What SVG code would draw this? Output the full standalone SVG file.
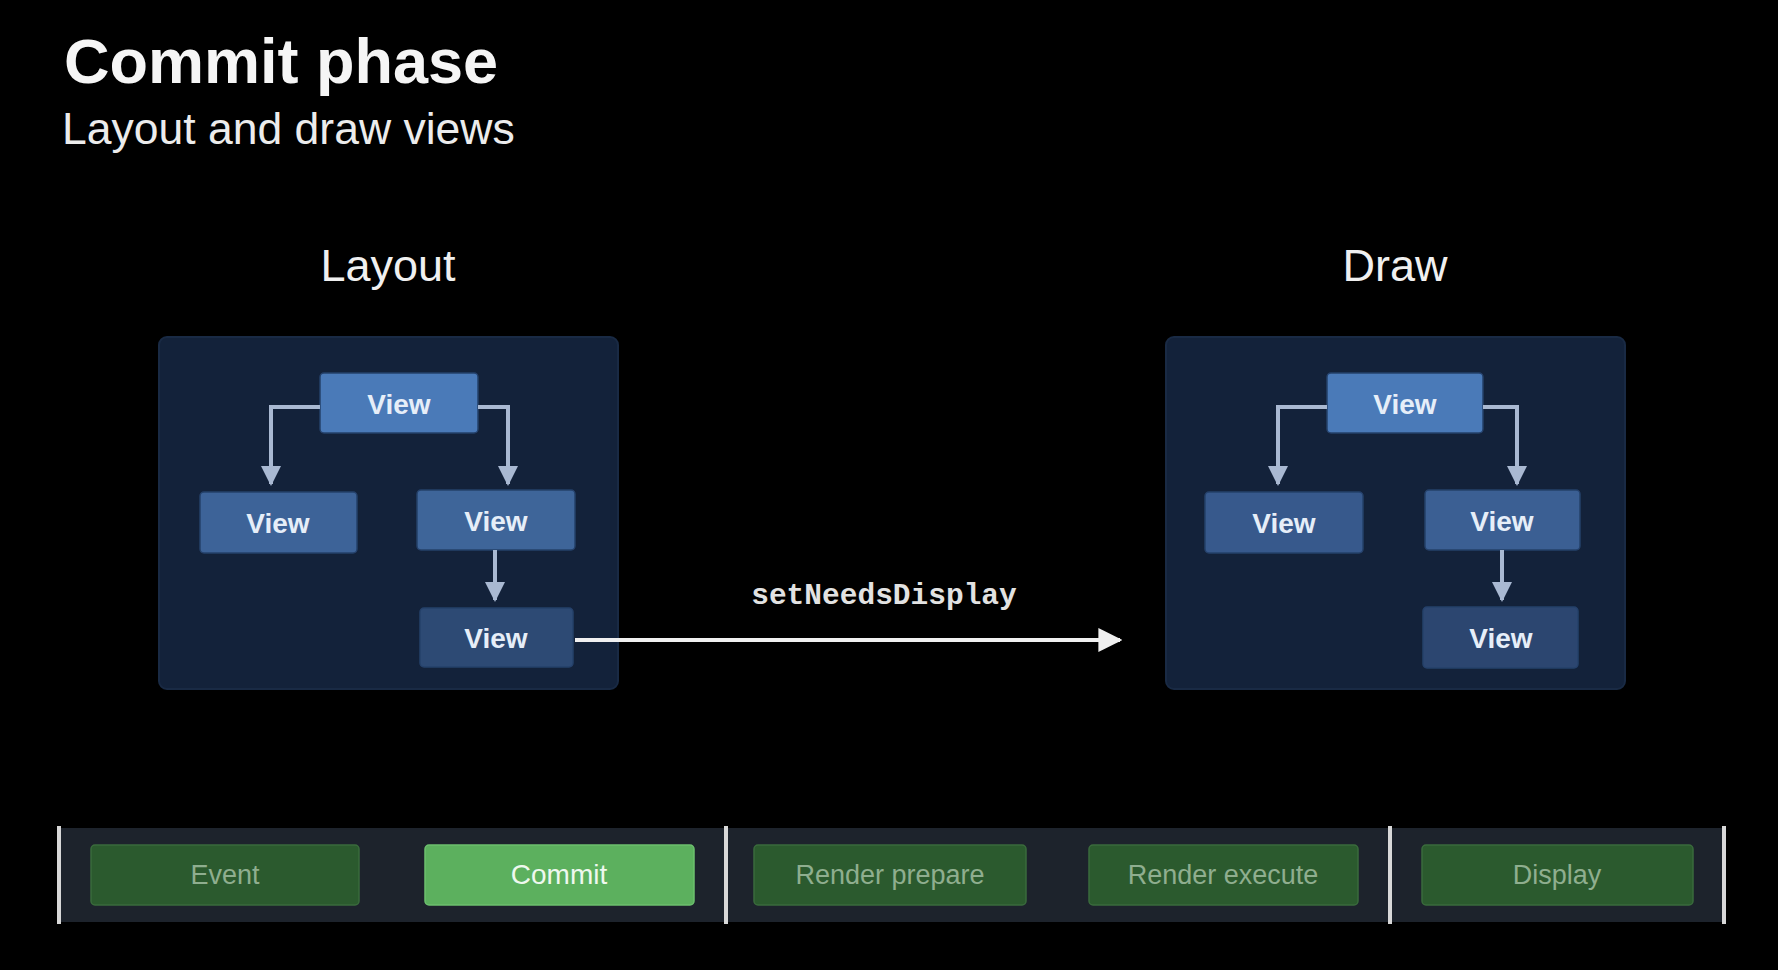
<svg xmlns="http://www.w3.org/2000/svg" width="1778" height="970" viewBox="0 0 1778 970">
<defs>
<style>
.title{font-family:"Liberation Sans",Arial,sans-serif;font-weight:bold;font-size:63px;fill:#f5f5f5}
.sub{font-family:"Liberation Sans",Arial,sans-serif;font-size:44.5px;fill:#ececec}
.head{font-family:"Liberation Sans",Arial,sans-serif;font-size:45px;fill:#f0f0f0;text-anchor:middle}
.panel{fill:#13223a;stroke:#192a44;stroke-width:2}
.view{stroke:#25416a;stroke-width:1.5}
.vt{font-family:"Liberation Sans",Arial,sans-serif;font-weight:bold;font-size:28px;fill:#e6eef8;text-anchor:middle}
.tree{fill:none;stroke:#a9b9d2;stroke-width:4}
.mono{font-family:"Liberation Mono","DejaVu Sans Mono",monospace;font-weight:bold;font-size:29.5px;fill:#e2e2e2;text-anchor:middle}
.bar{fill:#1d232c}
.sep{stroke:#d8d8d8;stroke-width:4}
.step{fill:#2b5a2e;stroke:#3a6b3c;stroke-width:1.5}
.stepon{fill:#5cb05e;stroke:#6cc06e;stroke-width:1.5}
.st{font-family:"Liberation Sans",Arial,sans-serif;font-size:27px;fill:#8fae8f;text-anchor:middle}
.ston{font-family:"Liberation Sans",Arial,sans-serif;font-size:28px;fill:#eef8ee;text-anchor:middle}
</style>
<marker id="tri" viewBox="0 0 10 10" refX="9" refY="5" markerWidth="5" markerHeight="5" orient="auto" markerUnits="strokeWidth">
<path d="M0,0 L10,5 L0,10 z" fill="#a9b9d2"/>
</marker>
<marker id="wtri" viewBox="0 0 10 10" refX="9" refY="5" markerWidth="6" markerHeight="6" orient="auto" markerUnits="strokeWidth">
<path d="M0,0 L10,5 L0,10 z" fill="#f0f0f0"/>
</marker>
</defs>
<rect width="1778" height="970" fill="#000"/>

<g id="title">
<text class="title" x="64" y="83">Commit phase</text>
<text class="sub" x="62" y="144">Layout and draw views</text>
</g>

<g id="layout-panel">
<text class="head" x="388" y="281">Layout</text>
<rect class="panel" x="159" y="337" width="459" height="352" rx="8"/>
</g>
<g id="layout-view-top"><rect class="view" x="320" y="373" width="158" height="60" rx="4" fill="#4a7ab8"/><text class="vt" x="399" y="414">View</text></g>
<g id="layout-view-left"><rect class="view" x="200" y="492" width="157" height="61" rx="4" fill="#3d6398"/><text class="vt" x="278" y="533">View</text></g>
<g id="layout-view-right"><rect class="view" x="417" y="490" width="158" height="60" rx="4" fill="#3e6599"/><text class="vt" x="496" y="531">View</text></g>
<g id="layout-view-bottom"><rect class="view" x="420" y="608" width="153" height="59" rx="4" fill="#2d4a74"/><text class="vt" x="496" y="648">View</text></g>

<g id="draw-panel">
<text class="head" x="1395" y="281">Draw</text>
<rect class="panel" x="1166" y="337" width="459" height="352" rx="8"/>
</g>
<g id="draw-view-top"><rect class="view" x="1327" y="373" width="156" height="60" rx="4" fill="#4a7ab8"/><text class="vt" x="1405" y="414">View</text></g>
<g id="draw-view-left"><rect class="view" x="1205" y="492" width="158" height="61" rx="4" fill="#37598c"/><text class="vt" x="1284" y="533">View</text></g>
<g id="draw-view-right"><rect class="view" x="1425" y="490" width="155" height="60" rx="4" fill="#3b5f93"/><text class="vt" x="1502" y="531">View</text></g>
<g id="draw-view-bottom"><rect class="view" x="1423" y="607" width="155" height="61" rx="4" fill="#2c4670"/><text class="vt" x="1501" y="648">View</text></g>

<g id="connectors">
<path class="tree" d="M320,407 H271 V484" marker-end="url(#tri)"/>
<path class="tree" d="M478,407 H508 V484" marker-end="url(#tri)"/>
<path class="tree" d="M495,550 V600" marker-end="url(#tri)"/>
<path class="tree" d="M1327,407 H1278 V484" marker-end="url(#tri)"/>
<path class="tree" d="M1483,407 H1517 V484" marker-end="url(#tri)"/>
<path class="tree" d="M1502,550 V600" marker-end="url(#tri)"/>
<path d="M575,640 H1120" fill="none" stroke="#f0f0f0" stroke-width="4" marker-end="url(#wtri)"/>
<text class="mono" x="884" y="604">setNeedsDisplay</text>
</g>

<g id="timeline">
<rect class="bar" x="59" y="828" width="1665" height="94"/>
<line class="sep" x1="59" y1="826" x2="59" y2="924"/>
<line class="sep" x1="726" y1="826" x2="726" y2="924"/>
<line class="sep" x1="1390" y1="826" x2="1390" y2="924"/>
<line class="sep" x1="1724" y1="826" x2="1724" y2="924"/>
</g>
<g id="step-event"><rect class="step" x="91" y="845" width="268" height="60" rx="4"/><text class="st" x="225" y="884">Event</text></g>
<g id="step-commit"><rect class="stepon" x="425" y="845" width="269" height="60" rx="4"/><text class="ston" x="559" y="884">Commit</text></g>
<g id="step-render-prepare"><rect class="step" x="754" y="845" width="272" height="60" rx="4"/><text class="st" x="890" y="884">Render prepare</text></g>
<g id="step-render-execute"><rect class="step" x="1089" y="845" width="269" height="60" rx="4"/><text class="st" x="1223" y="884">Render execute</text></g>
<g id="step-display"><rect class="step" x="1422" y="845" width="271" height="60" rx="4"/><text class="st" x="1557" y="884">Display</text></g>
</svg>
